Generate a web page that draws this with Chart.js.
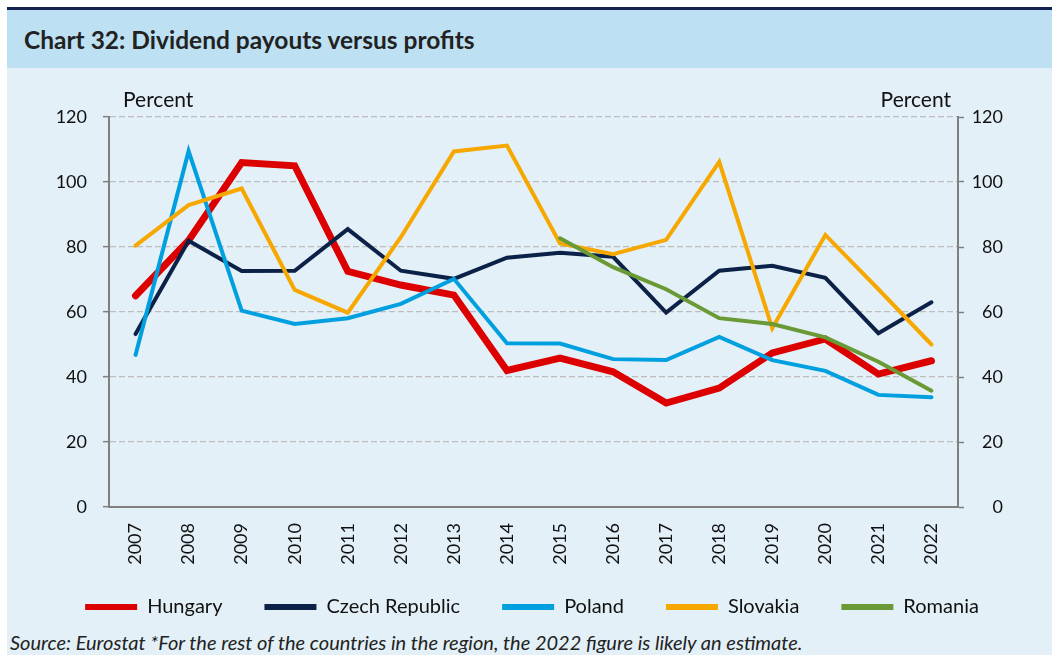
<!DOCTYPE html>
<html>
<head>
<meta charset="utf-8">
<script src="https://cdn.jsdelivr.net/npm/chart.js@4.4.0/dist/chart.umd.min.js"></script>
<style>
  body { margin: 0; background: #fff; width: 1052px; height: 655px; overflow: hidden; font-family: Lato, "Open Sans", sans-serif; }
  #panel { position: absolute; left: 7px; top: 7px; width: 1045px; height: 648px; background: #e3f0f7; border-top: 3px solid #14224f; }
  #head { position: absolute; left: 0; top: 0; width: 1045px; height: 58px; background: #bde0f2; }
  #title { position: absolute; left: 17px; top: 15px; font-weight: bold; font-size: 24.5px; color: #222; white-space: nowrap; }
  #wrap { position: absolute; left: 0; top: 58px; width: 1045px; height: 560px; }
  #source { position: absolute; left: 3px; top: 620px; font-style: italic; font-size: 20px; color: #222; white-space: nowrap; }
</style>
</head>
<body>
<div id="panel">
  <div id="head"><div id="title">Chart 32: Dividend payouts versus profits</div></div>
  <div id="wrap"><canvas id="chart32"></canvas></div>
  <div id="source">Source: Eurostat *For the rest of the countries in the region, the 2022 figure is likely an estimate.</div>
</div>
<script>
var years = ["2007", "2008", "2009", "2010", "2011", "2012", "2013", "2014", "2015", "2016", "2017", "2018", "2019", "2020", "2021", "2022"];
var hungary = [65, 82, 106, 105, 72.5, 68.3, 65.2, 42, 45.8, 41.6, 32, 36.6, 47.4, 51.7, 40.9, 45];
var czech = [53.2, 81.9, 72.6, 72.7, 85.5, 72.7, 70.2, 76.7, 78.2, 77, 59.8, 72.7, 74.2, 70.5, 53.5, 63];
var poland = [46.8, 109.5, 60.4, 56.3, 58.1, 62.5, 70.2, 50.4, 50.3, 45.5, 45.2, 52.3, 45.2, 41.9, 34.5, 33.8];
var slovakia = [80.4, 92.9, 98, 66.8, 59.8, 83, 109.4, 111.2, 81.1, 77.8, 82.2, 106.2, 55, 83.7, 67, 50];
var romania = [null, null, null, null, null, null, null, null, 82.7, 73.8, 67, 58.1, 56.3, 52.2, 44.7, 35.8];

var fontFamily = "Lato, 'Open Sans', sans-serif";
var axisGray = "#808080";
var legendGap = 42;

function makeLine(label, data, color, width, order) {
    return {
        label: label,
        data: data,
        borderColor: color,
        backgroundColor: color,
        borderWidth: width,
        pointRadius: 0,
        pointHoverRadius: 0,
        tension: 0,
        fill: false,
        borderCapStyle: "round",
        borderJoinStyle: "miter",
        spanGaps: false,
        order: order
    };
}

// "Percent" over both axes, and the right axis numbers right-aligned
var axisText = {
    id: "axisText",
    afterDraw: function (chart) {
        var ctx = chart.ctx;
        var area = chart.chartArea;
        var y2 = chart.scales.y2;
        ctx.save();
        ctx.font = "21px " + fontFamily;
        ctx.fillStyle = "#111";
        ctx.textBaseline = "alphabetic";
        ctx.textAlign = "left";
        ctx.fillText("Percent", area.left + 14, area.top - 10);
        ctx.textAlign = "right";
        ctx.fillText("Percent", area.right - 7, area.top - 10);

        ctx.font = "18px " + fontFamily;
        ctx.textBaseline = "middle";
        y2.ticks.forEach(function (t, i) {
            ctx.fillText(t.label, y2.left + 45, y2.getPixelForTick(i));
        });
        ctx.restore();
    }
};

var ctx = document.getElementById("chart32").getContext("2d");
var chart32 = new Chart(ctx, {
    type: "line",
    data: {
        labels: years,
        datasets: [
            makeLine("Hungary", hungary, "#dd0000", 7, 5),
            makeLine("Czech Republic", czech, "#0c2148", 4, 4),
            makeLine("Poland", poland, "#009fdf", 4, 3),
            makeLine("Slovakia", slovakia, "#f7a800", 4, 2),
            makeLine("Romania", romania, "#6a9a35", 4, 1)
        ]
    },
    options: {
        responsive: true,
        maintainAspectRatio: false,
        animation: false,
        layout: { padding: { top: 49, left: 5, right: 0, bottom: 1 } },
        plugins: {
            tooltip: { enabled: false },
            legend: {
                position: "bottom",
                labels: {
                    boxWidth: 52,
                    boxHeight: 6,
                    padding: legendGap,
                    color: "#111",
                    font: { family: fontFamily, size: 20 },
                    sort: function (a, b) { return a.datasetIndex - b.datasetIndex; },
                    generateLabels: function (chart) {
                        var items = Chart.defaults.plugins.legend.labels.generateLabels(chart);
                        items.forEach(function (it) { it.lineWidth = 0; });
                        return items;
                    }
                }
            }
        },
        scales: {
            x: {
                type: "category",
                offset: true,
                grid: { display: false, drawTicks: false },
                border: { display: true, color: axisGray, width: 2 },
                ticks: {
                    minRotation: 90,
                    maxRotation: 90,
                    padding: 16,
                    color: "#111",
                    font: { family: fontFamily, size: 18 }
                },
                afterFit: function (scale) {
                    scale.height = 90 - legendGap;
                    // year labels run down into the legend band, don't clip them
                    scale._computeLabelArea = function () { return undefined; };
                }
            },
            y: {
                position: "left",
                min: 0,
                max: 120,
                grid: {
                    color: "#bdbdbd",
                    lineWidth: 1.3,
                    tickColor: axisGray,
                    tickLength: 6,
                    tickWidth: 1.5
                },
                border: { display: true, color: axisGray, width: 2, dash: [6, 3] },
                ticks: {
                    stepSize: 20,
                    padding: 16,
                    color: "#111",
                    font: { family: fontFamily, size: 18 }
                },
                afterFit: function (scale) { scale.width = 97; }
            },
            y2: {
                position: "right",
                min: 0,
                max: 120,
                grid: {
                    drawOnChartArea: false,
                    tickColor: axisGray,
                    tickLength: 6,
                    tickWidth: 1.5
                },
                border: { display: true, color: axisGray, width: 2 },
                ticks: { stepSize: 20, display: false },
                afterFit: function (scale) { scale.width = 94; }
            }
        }
    },
    plugins: [axisText]
});
</script>
</body>
</html>
